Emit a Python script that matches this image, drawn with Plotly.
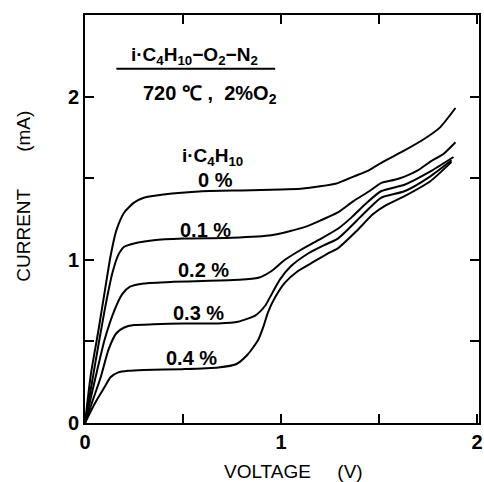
import plotly.graph_objects as go

# voltage (V) / current (mA), one pair per i-C4H10 level
v_0 = [0, 0.03, 0.066, 0.10, 0.13, 0.16, 0.20, 0.25, 0.30, 0.40, 0.60, 0.80, 1.00, 1.10,
       1.20, 1.29, 1.37, 1.45, 1.52, 1.63, 1.73, 1.81, 1.89]
i_0 = [0, 0.30, 0.55, 0.80, 1.02, 1.18, 1.29, 1.35, 1.38, 1.40, 1.42, 1.425, 1.43, 1.435,
       1.45, 1.47, 1.51, 1.55, 1.60, 1.67, 1.74, 1.81, 1.93]

v_01 = [0, 0.05, 0.10, 0.14, 0.17, 0.20, 0.25, 0.35, 0.50, 0.75, 0.95, 1.12, 1.20, 1.29,
        1.37, 1.45, 1.51, 1.58, 1.63, 1.70, 1.76, 1.83, 1.89]
i_01 = [0, 0.35, 0.69, 0.92, 1.03, 1.08, 1.10, 1.12, 1.13, 1.135, 1.15, 1.20, 1.24, 1.29,
        1.36, 1.42, 1.47, 1.49, 1.51, 1.55, 1.60, 1.65, 1.72]

v_02 = [0, 0.05, 0.10, 0.15, 0.19, 0.23, 0.30, 0.45, 0.60, 0.78, 0.884, 0.95, 1.02, 1.10,
        1.19, 1.29, 1.36, 1.42, 1.51, 1.63, 1.76, 1.88]
i_02 = [0, 0.26, 0.51, 0.69, 0.79, 0.835, 0.855, 0.865, 0.87, 0.877, 0.89, 0.93, 1.00, 1.06,
        1.12, 1.19, 1.26, 1.33, 1.42, 1.46, 1.54, 1.63]

v_03 = [0, 0.04, 0.08, 0.12, 0.16, 0.20, 0.25, 0.35, 0.50, 0.68, 0.78, 0.87, 0.92, 0.95,
        0.995, 1.05, 1.14, 1.22, 1.29, 1.42, 1.51, 1.63, 1.76, 1.87]
i_03 = [0, 0.14, 0.28, 0.45, 0.55, 0.585, 0.60, 0.605, 0.61, 0.61, 0.62, 0.66, 0.72, 0.785,
        0.88, 0.96, 1.04, 1.09, 1.13, 1.28, 1.38, 1.42, 1.51, 1.61]

v_04 = [0, 0.05, 0.10, 0.13, 0.17, 0.22, 0.30, 0.50, 0.68, 0.77, 0.83, 0.884, 0.91, 0.934,
        0.97, 1.02, 1.085, 1.17, 1.24, 1.29, 1.38, 1.47, 1.53, 1.63, 1.76, 1.87]
i_04 = [0, 0.12, 0.22, 0.28, 0.31, 0.32, 0.325, 0.33, 0.34, 0.36, 0.42, 0.51, 0.59, 0.68,
        0.77, 0.86, 0.93, 0.99, 1.04, 1.07, 1.17, 1.28, 1.33, 1.39, 1.48, 1.60]

curves = [(v_0, i_0), (v_01, i_01), (v_02, i_02), (v_03, i_03), (v_04, i_04)]

# curve labels and where they sit (data coords)
labels = ["0 %", "0.1 %", "0.2 %", "0.3 %", "0.4 %"]
label_x = [0.667, 0.616, 0.606, 0.58, 0.545]
label_y = [1.49, 1.18, 0.94, 0.675, 0.40]

tick_vals = [0, 0.5, 1, 1.5, 2]
tick_text = ["0", "", "1", "", "2"]

FONT = "Liberation Sans, Arial, sans-serif"
NB = "\u00a0"

fig = go.Figure()
for v, i in curves:
    fig.add_trace(go.Scatter(
        x=v, y=i, mode="lines",
        line=dict(color="black", width=2, shape="spline", smoothing=0.6),
        showlegend=False, hoverinfo="skip"
    ))

ann = []
for t, x, y in zip(labels, label_x, label_y):
    ann.append(dict(x=x, y=y, xref="x", yref="y", text="<b>" + t.replace(" ", NB) + "</b>",
                    showarrow=False, font=dict(size=20)))

ann += [
    dict(x=0.56, y=2.25, xref="x", yref="y", showarrow=False, font=dict(size=19),
         text="<b>i·C<sub>4</sub>H<sub>10</sub>−O<sub>2</sub>−N<sub>2</sub></b>"),
    dict(x=0.636, y=2.01, xref="x", yref="y", showarrow=False, font=dict(size=20),
         text="<b>720" + NB + "℃" + NB + "," + NB * 2 + "2%O<sub>2</sub></b>"),
    dict(x=0.65, y=1.63, xref="x", yref="y", showarrow=False, font=dict(size=19),
         text="<b>i·C<sub>4</sub>H<sub>10</sub></b>"),
    dict(x=0.529, y=-0.118, xref="paper", yref="paper", xanchor="center", yanchor="middle",
         showarrow=False, font=dict(size=19), text="VOLTAGE" + NB * 5 + "(V)"),
    dict(x=-0.156, y=0.556, xref="paper", yref="paper", xanchor="center", yanchor="middle",
         showarrow=False, textangle=-90,
         font=dict(size=19), text="CURRENT" + NB * 7 + "(mA)"),
]

axis_style = dict(
    showline=True, linecolor="black", linewidth=2, mirror="allticks",
    ticks="inside", ticklen=9, tickwidth=2, tickcolor="black",
    tickvals=tick_vals, ticktext=tick_text, showgrid=False, zeroline=False,
    tickfont=dict(size=20, color="black", weight="bold"),
    ticklabeloverflow="allow",
)

fig.update_layout(
    width=484, height=482,
    margin=dict(l=85, r=1, t=15, b=59),
    paper_bgcolor="white", plot_bgcolor="white",
    font=dict(family=FONT, color="black"),
    xaxis=dict(range=[0, 2.01], **axis_style),
    yaxis=dict(range=[0, 2.5], **axis_style),
    annotations=ann,
    shapes=[dict(type="line", xref="x", yref="y", x0=0.16, x1=0.97, y0=2.17, y1=2.17,
                 line=dict(color="black", width=2))],
)

fig.write_html("out.html", config={"displayModeBar": False},
               post_script="document.body.style.margin='0';")
